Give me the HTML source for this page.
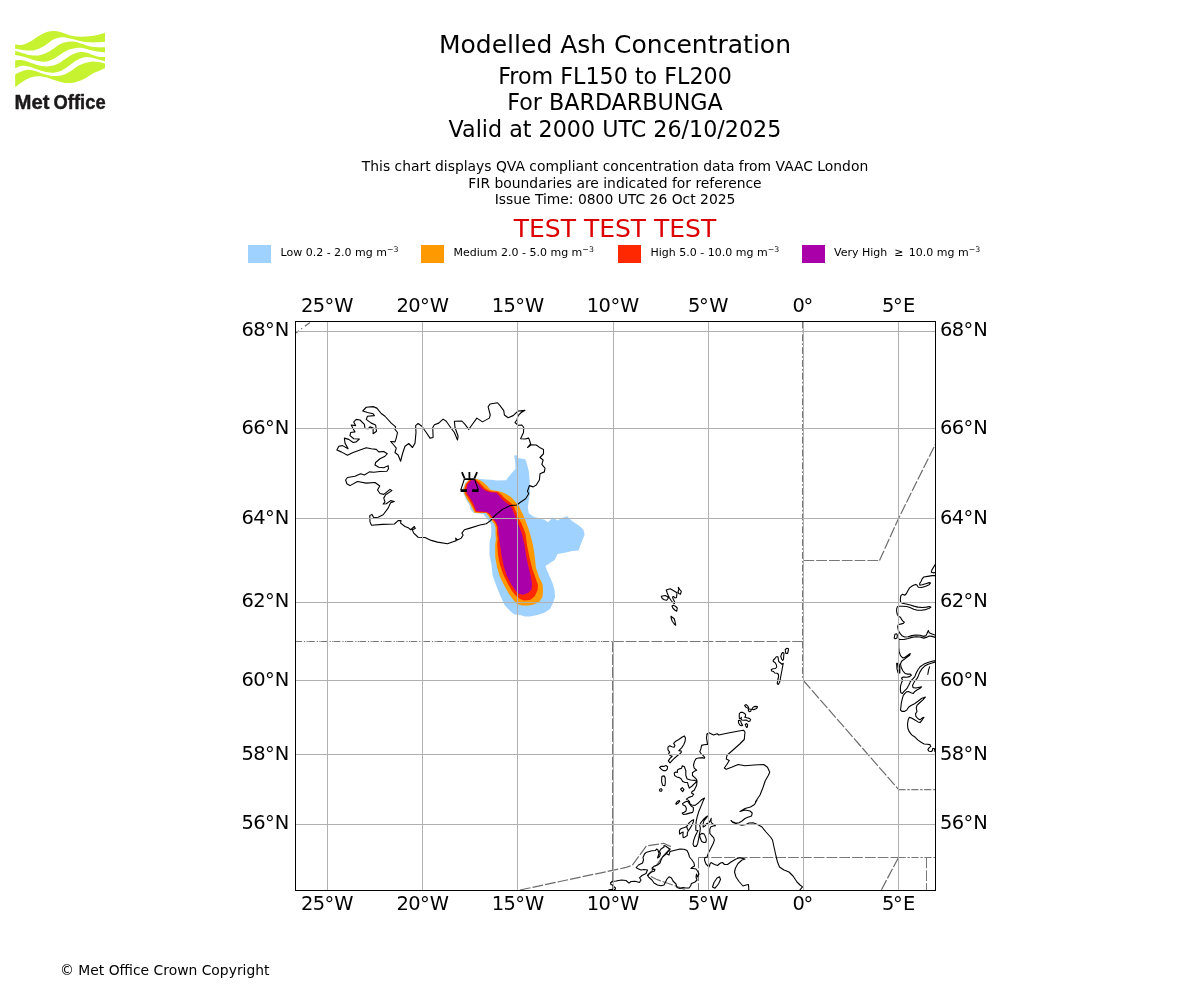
<!DOCTYPE html>
<html lang="en"><head><meta charset="utf-8"><title>Modelled Ash Concentration</title>
<style>html,body{margin:0;padding:0;background:#fff}body{width:1200px;height:1000px;overflow:hidden}svg{display:block;position:absolute;left:0;top:0}text{font-family:'DejaVu Sans','Liberation Sans',sans-serif;fill:#000}.c{text-anchor:middle}.r{text-anchor:end}.t1{font-size:25px}.t2{font-size:22.22px}.t3{font-size:13.89px}.tk{font-size:19.44px}.lg{font-size:11px}.coast{fill:none;stroke:#000;stroke-width:1.1;stroke-linejoin:round;stroke-linecap:round}.grid{stroke:#b0b0b0;stroke-width:1;fill:none}.fir{stroke:#787878;stroke-width:1;fill:none;stroke-dasharray:10.8 2}.dg{stroke:#6c6c6c;stroke-width:1.2}</style></head><body>
<svg width="1200" height="1000" viewBox="0 0 1200 1000">
<rect width="1200" height="1000" fill="#fff"/>
<g fill="#c6f230">
<path d="M15.17,44.58 C16.39,44.62 19.89,45.38 22.5,44.83 C25.11,44.27 28.05,42.75 30.83,41.25 C33.61,39.75 36.39,37.40 39.17,35.83 C41.95,34.26 44.86,32.63 47.5,31.83 C50.14,31.02 52.36,30.82 55,31 C57.64,31.18 60.55,32.14 63.33,32.92 C66.11,33.70 68.75,35.05 71.67,35.67 C74.59,36.30 77.91,36.57 80.83,36.67 C83.75,36.77 86.39,36.53 89.17,36.25 C91.95,35.97 94.86,35.60 97.5,35 C100.14,34.40 103.75,33.06 105,32.67 L105,41.67 C103.75,41.78 100.14,42.22 97.5,42.33 C94.86,42.44 91.95,42.51 89.17,42.33 C86.39,42.15 83.47,41.78 80.83,41.25 C78.19,40.72 75.69,39.77 73.33,39.17 C70.97,38.57 68.89,37.95 66.67,37.67 C64.45,37.39 62.22,37.18 60,37.5 C57.78,37.82 55.55,38.47 53.33,39.58 C51.11,40.69 48.89,42.71 46.67,44.17 C44.45,45.63 42.22,47.29 40,48.33 C37.78,49.37 35.55,50.07 33.33,50.42 C31.11,50.77 28.89,50.56 26.67,50.42 C24.45,50.28 21.92,49.86 20,49.58 C18.08,49.30 15.97,48.89 15.17,48.75Z"/>
<path d="M15.17,50.83 C16.39,51.22 19.89,52.45 22.5,53.17 C25.11,53.89 28.19,54.80 30.83,55.17 C33.47,55.55 35.83,55.73 38.33,55.42 C40.83,55.11 43.33,54.44 45.83,53.33 C48.33,52.22 50.83,50.35 53.33,48.75 C55.83,47.15 58.33,44.93 60.83,43.75 C63.33,42.57 65.97,42.02 68.33,41.67 C70.69,41.32 72.78,41.32 75,41.67 C77.22,42.02 79.31,42.99 81.67,43.75 C84.03,44.51 86.53,45.65 89.17,46.25 C91.81,46.85 94.86,47.15 97.5,47.33 C100.14,47.51 103.75,47.33 105,47.33 L105,52.5 C103.75,52.33 100.00,51.92 97.5,51.5 C95.00,51.08 92.36,50.55 90,50 C87.64,49.45 85.55,48.52 83.33,48.17 C81.11,47.82 78.89,47.75 76.67,47.92 C74.45,48.09 72.22,48.41 70,49.17 C67.78,49.93 65.55,51.18 63.33,52.5 C61.11,53.82 58.89,55.76 56.67,57.08 C54.45,58.40 52.22,59.66 50,60.42 C47.78,61.19 45.55,61.60 43.33,61.67 C41.11,61.74 38.89,61.32 36.67,60.83 C34.45,60.34 32.36,59.47 30,58.75 C27.64,58.03 24.97,57.12 22.5,56.5 C20.03,55.88 16.39,55.25 15.17,55Z"/>
<path d="M15.17,60.42 C16.11,60.35 18.91,59.86 20.83,60 C22.75,60.14 24.31,60.55 26.67,61.25 C29.03,61.95 32.22,63.34 35,64.17 C37.78,65.00 40.55,65.97 43.33,66.25 C46.11,66.53 49.03,66.38 51.67,65.83 C54.31,65.28 56.67,64.24 59.17,62.92 C61.67,61.60 64.17,59.45 66.67,57.92 C69.17,56.39 71.81,54.72 74.17,53.75 C76.53,52.78 78.61,52.22 80.83,52.08 C83.05,51.94 85.28,52.36 87.5,52.92 C89.72,53.48 92.09,54.73 94.17,55.42 C96.25,56.11 98.19,56.80 100,57.08 C101.81,57.36 104.17,57.08 105,57.08 L105,61.25 C104.17,61.04 101.81,60.49 100,60 C98.19,59.51 96.25,58.82 94.17,58.33 C92.09,57.84 89.58,57.15 87.5,57.08 C85.42,57.01 83.75,57.23 81.67,57.92 C79.59,58.62 77.22,59.86 75,61.25 C72.78,62.64 70.55,64.72 68.33,66.25 C66.11,67.78 63.89,69.38 61.67,70.42 C59.45,71.46 57.36,72.18 55,72.5 C52.64,72.82 50.14,72.75 47.5,72.33 C44.86,71.91 41.95,70.88 39.17,70 C36.39,69.12 33.33,67.78 30.83,67.08 C28.33,66.38 26.25,65.90 24.17,65.83 C22.09,65.76 19.83,66.25 18.33,66.67 C16.83,67.09 15.70,68.05 15.17,68.33Z"/>
<path d="M15.17,74.58 C15.97,74.16 18.08,72.84 20,72.08 C21.92,71.32 24.45,70.28 26.67,70 C28.89,69.72 30.97,69.93 33.33,70.42 C35.69,70.91 38.19,72.09 40.83,72.92 C43.47,73.75 46.39,74.91 49.17,75.42 C51.95,75.93 54.86,76.21 57.5,76 C60.14,75.79 62.64,75.10 65,74.17 C67.36,73.24 69.45,71.81 71.67,70.42 C73.89,69.03 76.11,67.08 78.33,65.83 C80.55,64.58 82.78,63.61 85,62.92 C87.22,62.23 89.45,61.81 91.67,61.67 C93.89,61.53 96.11,61.73 98.33,62.08 C100.55,62.43 103.89,63.47 105,63.75 L105,68.33 C104.17,68.68 101.94,69.59 100,70.42 C98.06,71.25 95.55,72.15 93.33,73.33 C91.11,74.51 88.89,76.25 86.67,77.5 C84.45,78.75 82.22,79.97 80,80.83 C77.78,81.69 75.83,82.32 73.33,82.67 C70.83,83.02 67.78,83.23 65,82.92 C62.22,82.61 59.45,81.66 56.67,80.83 C53.89,80.00 51.11,78.68 48.33,77.92 C45.55,77.16 42.50,76.46 40,76.25 C37.50,76.04 35.55,76.18 33.33,76.67 C31.11,77.16 28.75,78.13 26.67,79.17 C24.59,80.21 22.75,81.60 20.83,82.92 C18.91,84.24 16.11,86.39 15.17,87.08Z"/>
</g>
<text x="14.6" y="108.9" style="font-family:'Liberation Sans',sans-serif;font-weight:bold;font-size:20.4px;fill:#1c1a1a;stroke:#1c1a1a;stroke-width:0.45" textLength="35" lengthAdjust="spacingAndGlyphs">Met</text>
<text x="53.6" y="108.9" style="font-family:'Liberation Sans',sans-serif;font-weight:bold;font-size:20.4px;fill:#1c1a1a;stroke:#1c1a1a;stroke-width:0.45" textLength="52" lengthAdjust="spacingAndGlyphs">Office</text>
<text class="c t1" x="615.0" y="53.3">Modelled Ash Concentration</text>
<text class="c t2" x="615.0" y="83.7">From FL150 to FL200</text>
<text class="c t2" x="615.0" y="110.1">For BARDARBUNGA</text>
<text class="c t2" x="615.0" y="136.5">Valid at 2000 UTC 26/10/2025</text>
<text class="c t3" x="615.0" y="171.0">This chart displays QVA compliant concentration data from VAAC London</text>
<text class="c t3" x="615.0" y="187.6">FIR boundaries are indicated for reference</text>
<text class="c t3" x="615.0" y="204.1">Issue Time: 0800 UTC 26 Oct 2025</text>
<text class="c t1" x="615.0" y="236.8" style="fill:#dd0000">TEST TEST TEST</text>
<rect x="248" y="245" width="23" height="18" fill="#a0d2ff"/>
<text class="lg" x="280.5" y="256" xml:space="preserve">Low 0.2 - 2.0 mg m<tspan dy="-4.2" style="font-size:7.8px">−3</tspan></text>
<rect x="421" y="245" width="23" height="18" fill="#ff9900"/>
<text class="lg" x="453.5" y="256" xml:space="preserve">Medium 2.0 - 5.0 mg m<tspan dy="-4.2" style="font-size:7.8px">−3</tspan></text>
<rect x="618" y="245" width="23" height="18" fill="#ff2800"/>
<text class="lg" x="650.5" y="256" xml:space="preserve">High 5.0 - 10.0 mg m<tspan dy="-4.2" style="font-size:7.8px">−3</tspan></text>
<rect x="802" y="245" width="23" height="18" fill="#aa00aa"/>
<text class="lg" x="834" y="256" xml:space="preserve">Very High  ≥ <tspan dx="1.9">10.0 mg m</tspan><tspan dy="-4.2" style="font-size:7.8px">−3</tspan></text>
<clipPath id="fr"><rect x="295.5" y="321.5" width="640.0" height="569.0"/></clipPath>
<g clip-path="url(#fr)">
<path d="M465.12,483.12 L468.5,479.38 L475.25,478.62 L480.5,479 L485.75,479.38 L491,479.75 L497,480.5 L506,480.2 L509.6,475.4 L515.6,468.8 L515,460.4 L514.16,455.6 L516.2,455 L518,458 L525.2,459.2 L527,464 L528.8,471.2 L529.76,482 L530,492.8 L528.8,500 L527.84,507.2 L528.8,513.2 L533.6,516.8 L539.6,518.6 L544.4,519.8 L548,522.2 L552.8,517.4 L557.6,520.4 L561.8,518 L567.2,516.2 L572,521 L579.2,525.8 L583.4,529.4 L584.6,534.8 L581.6,542 L578.6,550.4 L572,551 L564.8,552.8 L557.6,554 L554.6,560 L550,563 L545.5,566 L546,568 L549,575 L552.5,583 L554.5,590 L555,597 L553,603 L550,609 L544,613 L537.5,615 L530,616.5 L525,616.5 L520,615 L514.5,614.5 L510,611 L504.5,605 L500,595 L496,585 L492.5,575 L491.5,565 L489.5,555 L489.5,545 L489.88,540.5 L491,536 L491.38,530 L491,524 L488.75,521 L485.75,517.25 L483.5,514.25 L480.5,513.5 L473.75,513.12 L470.75,509.75 L469.25,504.5 L466.25,500 L463.62,494 L462.88,488.75Z" fill="#a0d2ff"/>
<path d="M469.25,479.38 L475.25,478.85 L479.75,480.12 L483.5,482.38 L487.25,486.12 L490.25,489.5 L494,490.4 L497.75,491 L503,492.5 L507.5,494.75 L512,498.12 L515.75,502.25 L518.75,506 L521,510.5 L523.25,515 L524.75,518.75 L526.25,522.5 L528.12,527.75 L530,533.75 L533,545 L534.5,555 L536,568 L539,577 L542.5,584 L543,591 L542.5,597 L539,602 L534,604.5 L528,605.5 L522,605.5 L517,604 L513.5,600 L509,594 L504.5,586 L500,577 L497,567 L495.2,557 L495.2,545 L495.88,539 L495.5,533.75 L495.5,527.75 L494.38,524 L492.5,521.75 L490.25,518.75 L487.62,515 L486.12,512.9 L480.5,512.9 L474.5,512.75 L472.25,508.25 L470,503.75 L467,499.25 L464.38,494 L463.62,488.75 L465.5,483.5Z" fill="#ff9900"/>
<path d="M470,479.75 L474.88,479.15 L478.25,481.25 L481.25,484.62 L485,488.38 L488.75,490.62 L491.75,491.38 L497.75,491.75 L501.5,494.75 L504.5,498.12 L508.25,501.12 L512,504.12 L514.25,507.5 L516.12,512 L518,516.5 L518.75,518.75 L521,522.5 L523.25,527.75 L525.5,533.75 L527,545 L529,555 L532,568 L535.5,578 L538,585 L537.5,590.5 L534.5,596.5 L530,600 L524,600.5 L520,599 L516,596 L512,591 L508,584 L503.5,575 L500,565 L498,555 L497.2,545 L497.75,539 L497,533.75 L497,527.75 L495.88,524 L494,521 L491,518 L488.75,514.25 L486.5,512.38 L480.5,512.38 L475.62,512 L473.75,508.25 L471.5,503.75 L468.5,498.5 L465.5,494 L464.75,488.75 L466.25,483.88Z" fill="#ff2800"/>
<path d="M471.12,480.35 L474.12,480.12 L476.23,481.7 L479.15,485.23 L482.9,488.98 L486.05,490.93 L490.85,492.35 L496.4,492.73 L499.4,496.1 L502.4,499.48 L506.15,502.85 L509.9,505.48 L511.77,508.1 L513.65,512.45 L515.52,516.8 L515.9,518.9 L517.77,522.65 L519.73,527.9 L521.98,533.9 L524.5,545 L526,555 L528,565 L530.5,575 L532,584 L531.5,589.5 L528,593 L523,594.8 L518,593.5 L515,590 L511,584 L506.5,575 L503.5,565 L501.5,555 L500,545 L499.25,539 L498.5,533.75 L498.12,527 L496.25,522.5 L494,519.5 L491.75,516.5 L489.5,513.5 L486.5,512 L480.5,511.62 L476.75,511.25 L475.25,508.25 L473,503 L470,497.75 L467,493.25 L466.25,488.75 L467.75,484.25Z" fill="#aa00aa"/>
<g class="fir">
<path class="dg" d="M296,333L310,322.4" style="stroke-dasharray:3.7 2.9 1.1 3.5 7"/>
<path d="M295.5,641.5H613" style="stroke-dasharray:6.5 2 1.2 1.4 1.2 0.5"/>
<path d="M613,641.5H803"/>
<path d="M612.5,641.5V890"/>
<path d="M802.5,321.5V680.5" style="stroke-dasharray:7 2 1.8 2"/>
<path d="M803.4,560.5H879.5"/>
<path class="dg" d="M879.5,560.5L898.5,518.5L935.5,444"/>
<path class="dg" d="M803.4,680.5L898.3,789.2"/>
<path d="M898.3,789.6H935.5" style="stroke-dasharray:7.2 1.8 2.4 1.5;stroke-width:1.2"/>
<path d="M698.5,857.5H898.5"/>
<path d="M898.5,857.5H935.5" style="stroke-dasharray:7.2 1.8 2.4 1.5"/>
<path d="M698.5,857.5V890"/>
<path class="dg" d="M898.5,857.5L881.3,890"/>
<path d="M926.5,857.5V890"/>
<path class="dg" d="M520,890L625,867.7L632.3,865.3L646.3,846L663.7,843.3L671,846.7L670.3,848.3L662.3,857L657.7,863.7L651.7,871L647.7,875L656.3,879.3L667.7,883.3L677.7,886.7L686.3,890"/>
</g>
<path class="coast" d="M362.75,411 L366.25,407.25 L373.12,406.62 L376.88,408.12 L381.25,413.5 L385,416.25 L391.25,423.12 L395.62,426.88 L395,429.38 L397.5,432.5 L396.25,438.12 L395,441.88 L390.62,441.5 L393.75,445 L396.25,448.12 L395,452.5 L398.12,455 L400.62,461.25 L402.5,453.75 L405,446.25 L408.75,443.5 L412.5,447.5 L415,443.12 L416,432.5 L415.62,425.62 L418.12,423.5 L421.88,426.25 L426.25,432.5 L430,438.12 L433.12,437.5 L432.75,427.5 L434.38,424.75 L438.75,423.12 L443.12,419.12 L446.25,421.25 L450.62,427.5 L454.38,432.5 L457.5,440 L458.12,436.25 L455,427.5 L454.38,421.25 L461.88,421 L465,424.38 L468.75,429.38 L471.88,425 L476.88,418.12 L482.5,421.88 L489.38,418.12 L490.25,415 L488.12,406.88 L490,404 L497.5,402.75 L500,405.62 L503.75,410.62 L504.38,415 L508.12,417.75 L513.12,415.62 L518.12,411 L525,410.25 L521.25,412.5 L518.12,415.62 L516.88,420 L515,422.5 L518.12,425.25 L521.88,425 L523.75,427.5 L523.5,432.5 L520.62,438.75 L525,439 L528.75,438.12 L530.62,443.75 L527.5,447.5 L531.25,444.75 L536.25,445 L540.62,448.12 L543.5,449.38 L543.5,453.75 L540,457.5 L543.12,460 L541.88,464.38 L545,468.12 L544.38,471.88 L540,473.75 L539.38,480 L536.25,485 L533.12,486.88 L529.38,485.62 L527.5,491.25 L528.75,493.75 L525.62,498.75 L520,502.5 L516.88,505 L510,505.62 L502.5,509.38 L496.25,514.38 L491.88,518.75 L490.62,520.62 L486.25,523.75 L480,525 L470,528.12 L464.38,529.75 L461.88,533.12 L463.12,535 L461.25,538.12 L457.5,540 L455.62,538.12 L456.25,540.62 L453.75,541.5 L447.5,543.75 L437.5,542.12 L431.25,540.38 L425,537.5 L418.12,537.25 L413.75,533.12 L412.25,529.75 L415.25,528.5 L414.38,526.5 L410.62,529.75 L408.75,528.12 L405,526.5 L400.62,523.12 L401,520.62 L398.12,520.62 L394.38,524 L382.5,524.38 L371.5,525.25 L370,521.88 L369.75,515.62 L371.88,514.38 L373.75,517.75 L378.12,517.25 L383.12,514.75 L388.12,508.12 L390.62,502.75 L394.38,501.5 L390.62,500.62 L386.25,503.75 L383.12,504 L385,501.88 L383.75,498.12 L385.62,494.75 L391.88,490.62 L390,489.38 L383.75,494.38 L380,493.5 L377.5,490 L379.75,486 L375,482.5 L366.25,483.12 L357.5,481.5 L350,485.62 L349.38,485.25 L346.88,483.75 L345.62,480 L347.5,477.5 L355,476.25 L360.62,473.75 L364.38,475 L369.38,471.88 L373.75,472.25 L380,471.5 L386.88,471.25 L388.5,468.75 L388.12,465.62 L383.75,467.75 L378.75,467.25 L375,465 L375.62,462.5 L380,458.75 L385,456.25 L387.25,453.75 L383.75,451.5 L378.75,451.88 L376.25,449.38 L371.25,448.75 L366.25,447.75 L360,450 L352.5,452.75 L347.5,455.25 L341.25,451.88 L336.88,450 L338.75,446.25 L342.5,445.62 L348.12,448.75 L345,443.12 L344.38,438.12 L348.75,439.38 L353.12,442.5 L356.25,441.88 L359.38,439 L353.75,438.75 L350,435.62 L350.62,432.5 L355,431.88 L353.12,428.75 L351.25,425 L355.62,425.62 L353.75,421.88 L356.25,419.38 L360,420 L364.38,424.38 L365,428.5 L368.12,428.75 L370,426.88 L373.12,428.12 L373.12,433.75 L376.5,431.25 L375.62,425 L371.25,423.12 L366.25,419.38 L367.5,416.25 L374.38,415.62 L373.12,413.75 L367.5,412.5 L362.75,411ZM666.25,590 L670.25,588.75 L677,592.75 L676.5,597.5 L675,598 L673.75,596.5 L672.5,597 L673.25,599.25 L674.75,602 L674.5,603.5 L673.25,603 L671.5,601 L669.5,598 L668.25,595.5 L667.25,593ZM661.25,596.25 L665.25,595.5 L667.5,596.75 L668.5,597.75 L666.75,600.25 L664.25,599.75 L662.25,598.5ZM672,606 L673.25,605.25 L675.5,606.25 L677.25,608 L676.75,611.25 L675,610.25 L673,608.25ZM671,616.25 L672.25,617.25 L674.25,618.75 L675,621.5 L675.75,625.25 L674.25,624 L672.25,621.25 L671.25,618.5ZM778.25,684.5 L777.25,683.5 L777.75,680 L778.5,677 L778.5,674.5 L777.25,673.25 L774.75,673 L773.5,671.5 L771.5,671 L771.25,669.5 L773,668.75 L775.5,668.5 L776.75,667 L776.25,664.5 L775,662.5 L773.25,661.5 L773.25,660.25 L774.75,658.75 L776.25,656.75 L778,656.75 L778.25,659 L778.75,661.5 L780.5,663 L782,664.25 L783.25,663.25 L782.75,666 L782,670 L781,675 L780.25,679.5 L779.5,682.5ZM780.75,656.5 L781.75,653.5 L782.75,652.5 L784,653 L783.75,655.5 L783.5,659 L782.75,660.5 L781.75,659.25ZM785.25,649.5 L787,648.25 L788.5,648.75 L788.25,651 L787.5,653.5 L786,653.5 L785.5,651.75ZM739.4,713.4 L740.8,712.4 L742.8,712.4 L744.6,713.4 L745.6,714.8 L745.4,716.8 L744.6,717 L746.8,717.8 L749.2,718.4 L750.6,719.4 L750,721 L748.6,721.6 L747.2,720.6 L746,720 L743.6,720.2 L741.8,720 L741,718.8 L741.4,717.4 L740.6,718.6 L739.4,718.4 L739.2,715.8ZM738.4,720.6 L739.6,720.2 L740.8,721.4 L741.4,723.4 L742.6,725.4 L741.2,725.8 L739.8,725 L738.6,723ZM745.2,724.4 L746.6,723.6 L747.6,724.6 L747.4,727 L746.6,727.4 L745.8,726ZM744.6,705.4 L746.2,704.6 L747.6,705.8 L748.6,707.6 L748,708.4 L746.8,707.6 L745.6,707ZM684.4,735.95 L685.46,738.05 L685.11,741.2 L683.7,744.7 L681.6,747.85 L678.8,750.65 L681.25,751 L681.25,752.4 L679.5,754.15 L676.7,756.25 L673.2,759.4 L670.05,762.91 L668.3,760.81 L670.05,758.35 L672.15,756.25 L670.05,755.55 L668.65,753.45 L669.7,752.05 L667.95,749.95 L667.95,747.15 L669.7,745.75 L671.8,746.8 L674.25,747.15 L674.95,745.4 L673.55,743.3 L675.3,741.55 L678.8,739.45 L682.3,737ZM659.55,767.46 L660.95,766.41 L663.75,766.41 L665.85,765.57 L667.6,766.76 L667.25,769.21 L665.85,770.61 L663.4,770.61 L661.3,769.21ZM662,776.21 L664.1,775.86 L665.15,777.61 L665.36,782.51 L664.8,785.66 L662.7,785.31 L661.65,781.81 L661.65,778.31ZM659.34,790.07 L660.04,788.95 L661.44,788.81 L662.14,790.07 L661.44,791.26 L660.04,791.26ZM682.3,765.71 L684.4,766.76 L685.81,770.61 L685.81,775.51 L687.21,779.01 L690.71,780.06 L694.91,780.41 L697.01,781.46 L694.91,783.21 L692.11,786.01 L689.31,788.11 L688.26,785.31 L687.56,782.51 L685.11,782.51 L682.65,781.46 L681.25,779.01 L679.5,777.61 L676.7,776.91 L674.6,775.51 L674.25,773.06 L675.65,772.01 L677.4,772.36 L677.4,769.91 L679.5,768.86 L681.6,768.16ZM680.55,789.16 L682.3,787.55 L684.05,789.51 L682.65,791.61ZM675.85,803.65 L677.25,801.55 L679.35,800.5 L679.7,801.34 L677.95,803.3 L676.2,804.35ZM682.5,803.65 L684.6,802.25 L686.7,801.2 L688.45,801.9 L689.5,804 L691.25,806.1 L693.35,807.5 L693.35,810.3 L692.65,812.4 L689.5,813.1 L686,814.15 L683.55,814.5 L682.15,813.1 L684.25,812.26 L686,811 L686.35,808.2 L685.3,806.1 L683.2,805.05ZM679.35,831.31 L680.05,829.21 L682.15,828.16 L684.6,827.46 L686.7,826.41 L689.15,822.91 L691.95,820.46 L693.7,819.75 L693.35,821.86 L691.95,825.01 L690.2,828.16 L688.45,830.61 L687.4,832.71 L687.26,835.51 L685.3,836.91 L683.2,837.61 L682.85,834.81 L683.2,832.01 L681.45,832.71 L679.7,834.11ZM700.01,834.81 L701.76,833.41 L703.86,833.76 L705.26,836.21 L706.31,839.71 L705.96,842.16 L703.86,842.51 L701.76,841.46 L700.36,838.31 L699.66,835.86ZM712.5,887 L714,882.5 L717,878 L719.5,876.8 L720.5,879.5 L718.5,884 L715,888.2ZM894.2,638.1 L894.9,634.25 L896.65,633.76 L897.35,635.3 L897,638.1 L895.25,638.8ZM896.65,663.3 L897.7,663.3 L898.4,668.2 L899.1,672.4 L898.05,672.75 L897,668.9ZM678.25,587.25 L680,589.75 L681.25,591.25 L680.5,594.25 L678.75,593.5 L678,592 L678.75,589.75ZM748.4,708.8 L749.6,709 L751.2,709.6 L750.8,711.2 L749.4,711.6 L748.4,710.8ZM752,709 L752.8,707.6 L754,706.6 L756,706.4 L757.6,706.8 L756.8,708.2 L754.8,709.4 L753,709.6ZM799.4,890.5 L802.5,886.9 L800,885 L797,882 L793,876 L789,872 L784,870 L779.5,867 L777.5,862 L776,856 L774,847 L772.5,840 L770.5,837 L766,832 L762,827 L757.5,824.5 L753,822.8 L749,823 L746,824.5 L742,825.2 L737,824 L733,822.5 L731,820.5 L732.5,821.8 L735.5,823 L739,822.8 L742,821 L745,818.5 L748.5,817 L751.5,816 L752.2,813 L750,811 L745,810 L740,811.5 L745,808.5 L750.5,807 L754.5,804.5 L757,800 L755.5,801.75 L760,795 L763,787.5 L765.25,780.75 L768.25,775.5 L769.75,772.2 L767.5,767.25 L763.75,764.55 L754,765 L745,765.75 L738.25,764.55 L731.5,767.25 L726.25,769.2 L724.3,768 L727,764.25 L729.25,760.5 L726.25,759 L727,755.25 L733,750 L739.75,744 L744.25,739.5 L745,732 L743.5,730.2 L737.5,731.25 L727,733.2 L718.75,735 L717.25,733.8 L713.5,735 L709,732.75 L706.75,734.25 L707.16,733.85 L706.46,737.7 L707.16,741.9 L707.51,744.35 L704.01,744.7 L701.56,745.4 L700.86,748.9 L699.81,751.7 L701.21,753.8 L703.31,755.55 L704.71,757.65 L704.01,758.35 L702.61,757.65 L698.41,758 L695.96,758.7 L694.56,761.16 L693.51,765.01 L694.21,768.16 L696.66,770.26 L694.21,771.31 L692.46,772.71 L692.46,775.51 L694.91,777.61 L696.66,779.71 L697.01,781.46 L696.66,785.31 L694.91,788.81 L694.4,790 L691.95,791.75 L691.6,793.15 L693.7,794.2 L692.3,796.3 L688.8,797.35 L686.35,799.1 L688.1,800.15 L689.5,801.55 L689.85,803.65 L691.6,805.05 L695.11,805.4 L697.91,803.3 L701.41,799.8 L704.56,798.05 L703.16,800.85 L701.06,806.1 L698.96,811 L697.21,816.6 L696.16,821.51 L695.81,826.41 L695.81,830.26 L697.91,830.47 L696.86,832.71 L695.11,836.21 L693.7,840.41 L693,844.26 L694.05,846.36 L696.16,846.36 L697.56,843.91 L698.61,839.01 L699.31,834.81 L700.01,831.31 L700.36,828.16 L699.66,825.01 L700.71,822.91 L703.16,819.75 L705.61,817.3 L707.71,816.04 L705.96,818.35 L703.86,820.81 L703.16,823.61 L703.16,827.11 L705.26,825.71 L706.66,823.61 L708.76,822.91 L710.16,820.81 L711.21,818.35 L710.86,821.16 L711.56,822.91 L713.31,824.31 L715.41,825.71 L713.31,826.06 L710.86,826.76 L709.81,829.21 L709.81,833.41 L711.56,835.51 L713.66,837.61 L714.36,840.06 L713.31,843.21 L711.56,846.71 L709.81,850.21 L708.41,853.01 L707.36,856.16 L707,857 L704.8,857.8 L704.5,860 L706,864 L709,867 L710,864 L711,862.5 L714.5,864.5 L717.5,865.5 L720.5,863 L722.5,862.5 L724.5,864.5 L727.5,864.5 L731,862 L736,859 L740,857.8 L745,859 L742,860 L738,863.5 L735.5,868 L734.5,872 L736,877 L739,881.5 L743,886 L746,885 L748.5,884.5 L748.8,890M608.5,890 L610.5,889.5 L613,889.2 L615,889.8 L615.5,888 L614,886.8 L612.5,885 L611,884.5 L610.5,883 L612,881.5 L616,881 L621.5,880 L626,880.5 L629,883.2 L631,881.5 L635,881.2 L639.5,882.5 L641,880 L639.5,877.8 L642,875.5 L646,873.5 L647.5,870 L644,869.5 L641,870 L637.5,868.5 L636.2,867.5 L638.5,865 L642.5,863 L643.5,860 L643,857.5 L644.5,854 L646.5,852.2 L652,850.8 L655.5,850.5 L656.5,849 L658,850 L659,853.5 L657.5,858 L659.5,856.5 L660.5,853.5 L659.5,851.2 L661,849 L664,847 L664,845.5 L665.5,846 L669,848.5 L670,849.5 L666.5,853.5 L662.5,857 L661,860 L660,863 L657.5,865 L654.5,866 L652,868 L652.5,869.5 L655,869.2 L654.5,871 L651.5,872 L649,874 L647.5,875.5 L649,877.5 L652,880 L654,883 L657.5,885 L661,885.8 L664,885 L665.5,882 L667,879 L669,876.8 L671.5,878 L673,881 L676,884 L677,887.5 L680,888.5 L683,887.5 L686,888 L689,888 L690.5,886 L691.5,883.5 L695,882 L697,880M670,849.5 L666,853.5 L669,855 L670,851.5 L672,851 L676,850 L680,849 L684,849.2 L687,850.5 L688.5,853.5 L689.5,857 L692,860 L694,863 L694.5,866 L692,867.5 L691,868.5 L693.5,868.5 L696,869 L697.5,871 L699,874 L697.5,877 L696.5,874 L696,877 L697,880M686.7,826.41 L687.4,829.21 L688.45,830.61M935.5,564.1 L933.75,566.9 L932,569.7 L931.3,572.15 L933.05,572.85 L935.5,572.5M935.5,575.65 L932,575.65 L927.8,576.35 L923.6,577.05 L922.2,578.8 L921.15,581.25 L919.75,583.35 L919.75,585.1 L922.2,584.75 L925.7,583.7 L929.2,582.65 L930.6,583 L929.2,584.75 L925.7,586.15 L921.5,587.55 L918.35,587.2 L916.95,585.1 L915.55,584.4 L912.4,585.8 L909.6,587.9 L907.85,590.7 L906.45,593.5 L904.7,595.25 L902.6,594.2 L900.85,595.6 L900.36,599.1 L900.5,601.9 L902.25,603.3 L906.1,604 L910.3,605.05 L913.8,606.1 L918,607.15 L922.2,607.5 L926.4,607.15 L929.55,606.45 L930.95,607.15 L928.85,608.55 L925.7,609.6 L921.5,610.3 L917.3,610.3 L913.8,609.25 L909.95,607.5 L906.8,606.45 L902.6,606.24 L899.1,606.24 L897.35,606.8 L896.65,608.9 L896.65,611.7 L897.35,614.5 L898.75,616.6 L900.5,617.3 L901.55,619.4 L902.95,621.15 L904.35,622.2 L903.3,623.4 L900.5,624.1 L898.4,624.45 L897.7,626.9 L898.4,630.4 L899.8,633.2 L901.9,635.65 L904.7,637.05 L908.2,636.7 L911.7,635.65 L915.9,634.95 L920.1,635.3 L923.6,636.35 L926.05,635.65 L927.45,632.5 L928.36,630.4 L929.2,632.85 L932,633.9 L935.5,635.3M935.5,637.4 L932,636.35 L929.2,636 L926.4,637.4 L923.6,638.1 L920.1,637.05 L915.9,636.7 L911.7,637.4 L908.2,638.45 L904,639.5 L900.5,639.5 L898.75,639.15 L898.75,643 L898.75,647.2 L899.1,651.4 L900.5,655.6 L902.95,658.05 L905.4,657 L907.85,655.25 L910.3,653.5 L909.6,655.25 L906.8,657.35 L904,659.45 L901.55,661.2 L900.5,664 L901.2,667.5 L902.95,671 L905.05,673.45 L907.85,674.15 L910.3,674.15 L911.35,675.2 L909.6,676.6 L906.8,677.3 L903.3,676.95 L901.55,678 L902.6,680.25 L901.55,682.7 L900.5,686.2 L900.36,689.7 L900.85,692.85 L902.25,693.55 L904,691.45 L906.8,688.65 L908.55,685.5 L909.95,682.7 L910.3,681.5 L913.1,678.7 L914.85,676.6 L915.9,673.8 L917.65,670.3 L920.1,666.8 L923.6,664.35 L927.8,662.6 L932,661.2 L935.5,660.5M935.5,661.9 L932,662.95 L928.15,664.35 L924.65,666.1 L921.85,668.9 L919.75,672.4 L918.35,675.9 L916.95,678.7 L914.5,681.5 L913.8,682.7 L912.54,685.5 L913.1,687.6 L915.9,687.95 L919.4,687.25 L921.5,686.9 L920.1,688.3 L916.95,690.05 L914.5,691.8 L913.1,693.55 L911,692.85 L908.55,691.45 L906.45,691.8 L904.7,693.55 L903.3,695.3 L902.25,698.8 L901.34,703 L900.85,707.2 L900.5,710 L901.9,711.4 L904.7,711.4 L906.8,710 L908.55,707.2 L911,705.45 L914.5,703.7 L918,701.25 L921.5,698.45 L925.35,697.05 L922.9,699.85 L919.4,703 L916.95,705.45 L916.25,707.9 L916.95,711.4 L915.55,713.85 L915.9,716.3 L918,718.75 L920.1,719.8 L922.55,717.7 L923.95,717.35 L922.2,719.8 L920.1,722.6 L918,721.9 L914.5,719.8 L911,717.7 L909.25,717.35 L908.2,719.8 L907.5,724 L907.85,728.2 L909.25,731.7 L911.7,734.85 L915.2,737.3 L918,740.1 L921.5,742.55 L924.2,744 L927.2,744.3 L929.9,744.6 L930.8,746.4 L929,747.9 L927.8,749.7 L929,751.2 L931.4,751.5 L932.6,750.3 L932.6,748.5 L934.4,748.5 L935,751.8M929.55,666.8 L928.5,670.3 L927.8,674.5M899.1,664 L899.8,668.2 L899.8,673.1"/>
<path class="grid" d="M327.5,321.5V890.5M422.5,321.5V890.5M517.5,321.5V890.5M613.5,321.5V890.5M708.5,321.5V890.5M803.5,321.5V890.5M898.5,321.5V890.5M295.5,331.5H935.5M295.5,428.5H935.5M295.5,518.5H935.5M295.5,602.5H935.5M295.5,680.5H935.5M295.5,754.5H935.5M295.5,824.5H935.5"/>
<g stroke="#000" fill="none">
<path d="M464.2,479.1H474.8" stroke-width="1.9"/>
<path d="M464.4,479L460.7,490.2M474.6,479L478.3,490.2" stroke-width="1.1"/>
<path d="M460.6,490.6H466.9M472.1,490.6H478.5" stroke-width="2.6"/>
<path d="M464.6,478.3L461.9,472.1M469.4,478.8V471.9M474.4,478.3L477.1,472.1" stroke-width="1.8"/>
</g>
</g>
<rect x="295.5" y="321.5" width="640.0" height="569.0" fill="none" stroke="#000" stroke-width="1"/>
<text class="c tk" x="327.2" y="312.3">2<tspan dx="-0.6">5</tspan><tspan dx="-0.5" dy="1">°</tspan><tspan dx="-0.1" dy="-1">W</tspan></text>
<text class="c tk" x="327.2" y="910.3">2<tspan dx="-0.6">5</tspan><tspan dx="-0.5" dy="1">°</tspan><tspan dx="-0.1" dy="-1">W</tspan></text>
<text class="c tk" x="422.7" y="312.3">2<tspan dx="-0.6">0</tspan><tspan dx="-0.5" dy="1">°</tspan><tspan dx="-0.1" dy="-1">W</tspan></text>
<text class="c tk" x="422.7" y="910.3">2<tspan dx="-0.6">0</tspan><tspan dx="-0.5" dy="1">°</tspan><tspan dx="-0.1" dy="-1">W</tspan></text>
<text class="c tk" x="517.9" y="312.3">1<tspan dx="-0.6">5</tspan><tspan dx="-0.5" dy="1">°</tspan><tspan dx="-0.1" dy="-1">W</tspan></text>
<text class="c tk" x="517.9" y="910.3">1<tspan dx="-0.6">5</tspan><tspan dx="-0.5" dy="1">°</tspan><tspan dx="-0.1" dy="-1">W</tspan></text>
<text class="c tk" x="613.05" y="312.3">1<tspan dx="-0.6">0</tspan><tspan dx="-0.5" dy="1">°</tspan><tspan dx="-0.1" dy="-1">W</tspan></text>
<text class="c tk" x="613.05" y="910.3">1<tspan dx="-0.6">0</tspan><tspan dx="-0.5" dy="1">°</tspan><tspan dx="-0.1" dy="-1">W</tspan></text>
<text class="c tk" x="708.2" y="312.3">5<tspan dx="-1.3" dy="1">°</tspan><tspan dx="0.3" dy="-1">W</tspan></text>
<text class="c tk" x="708.2" y="910.3">5<tspan dx="-1.3" dy="1">°</tspan><tspan dx="0.3" dy="-1">W</tspan></text>
<text class="c tk" x="802.9" y="312.3">0<tspan dx="-1.3" dy="1">°</tspan></text>
<text class="c tk" x="802.9" y="910.3">0<tspan dx="-1.3" dy="1">°</tspan></text>
<text class="c tk" x="898.7" y="312.3">5<tspan dx="-1.3" dy="1">°</tspan><tspan dx="0.3" dy="-1">E</tspan></text>
<text class="c tk" x="898.7" y="910.3">5<tspan dx="-1.3" dy="1">°</tspan><tspan dx="0.3" dy="-1">E</tspan></text>
<text class="r tk" x="289.2" y="335.9">6<tspan dx="-0.6">8</tspan><tspan dx="-0.5" dy="1">°</tspan><tspan dx="-0.1" dy="-1">N</tspan></text>
<text class="tk" x="939.9" y="335.9">6<tspan dx="-0.6">8</tspan><tspan dx="-0.5" dy="1">°</tspan><tspan dx="-0.1" dy="-1">N</tspan></text>
<text class="r tk" x="289.2" y="433.8">6<tspan dx="-0.6">6</tspan><tspan dx="-0.5" dy="1">°</tspan><tspan dx="-0.1" dy="-1">N</tspan></text>
<text class="tk" x="939.9" y="433.8">6<tspan dx="-0.6">6</tspan><tspan dx="-0.5" dy="1">°</tspan><tspan dx="-0.1" dy="-1">N</tspan></text>
<text class="r tk" x="289.2" y="523.9">6<tspan dx="-0.6">4</tspan><tspan dx="-0.5" dy="1">°</tspan><tspan dx="-0.1" dy="-1">N</tspan></text>
<text class="tk" x="939.9" y="523.9">6<tspan dx="-0.6">4</tspan><tspan dx="-0.5" dy="1">°</tspan><tspan dx="-0.1" dy="-1">N</tspan></text>
<text class="r tk" x="289.2" y="606.9">6<tspan dx="-0.6">2</tspan><tspan dx="-0.5" dy="1">°</tspan><tspan dx="-0.1" dy="-1">N</tspan></text>
<text class="tk" x="939.9" y="606.9">6<tspan dx="-0.6">2</tspan><tspan dx="-0.5" dy="1">°</tspan><tspan dx="-0.1" dy="-1">N</tspan></text>
<text class="r tk" x="289.2" y="685.9">6<tspan dx="-0.6">0</tspan><tspan dx="-0.5" dy="1">°</tspan><tspan dx="-0.1" dy="-1">N</tspan></text>
<text class="tk" x="939.9" y="685.9">6<tspan dx="-0.6">0</tspan><tspan dx="-0.5" dy="1">°</tspan><tspan dx="-0.1" dy="-1">N</tspan></text>
<text class="r tk" x="289.2" y="759.9">5<tspan dx="-0.6">8</tspan><tspan dx="-0.5" dy="1">°</tspan><tspan dx="-0.1" dy="-1">N</tspan></text>
<text class="tk" x="939.9" y="759.9">5<tspan dx="-0.6">8</tspan><tspan dx="-0.5" dy="1">°</tspan><tspan dx="-0.1" dy="-1">N</tspan></text>
<text class="r tk" x="289.2" y="829.3">5<tspan dx="-0.6">6</tspan><tspan dx="-0.5" dy="1">°</tspan><tspan dx="-0.1" dy="-1">N</tspan></text>
<text class="tk" x="939.9" y="829.3">5<tspan dx="-0.6">6</tspan><tspan dx="-0.5" dy="1">°</tspan><tspan dx="-0.1" dy="-1">N</tspan></text>
<text class="t3" x="60" y="975">© Met Office Crown Copyright</text>
</svg></body></html>
